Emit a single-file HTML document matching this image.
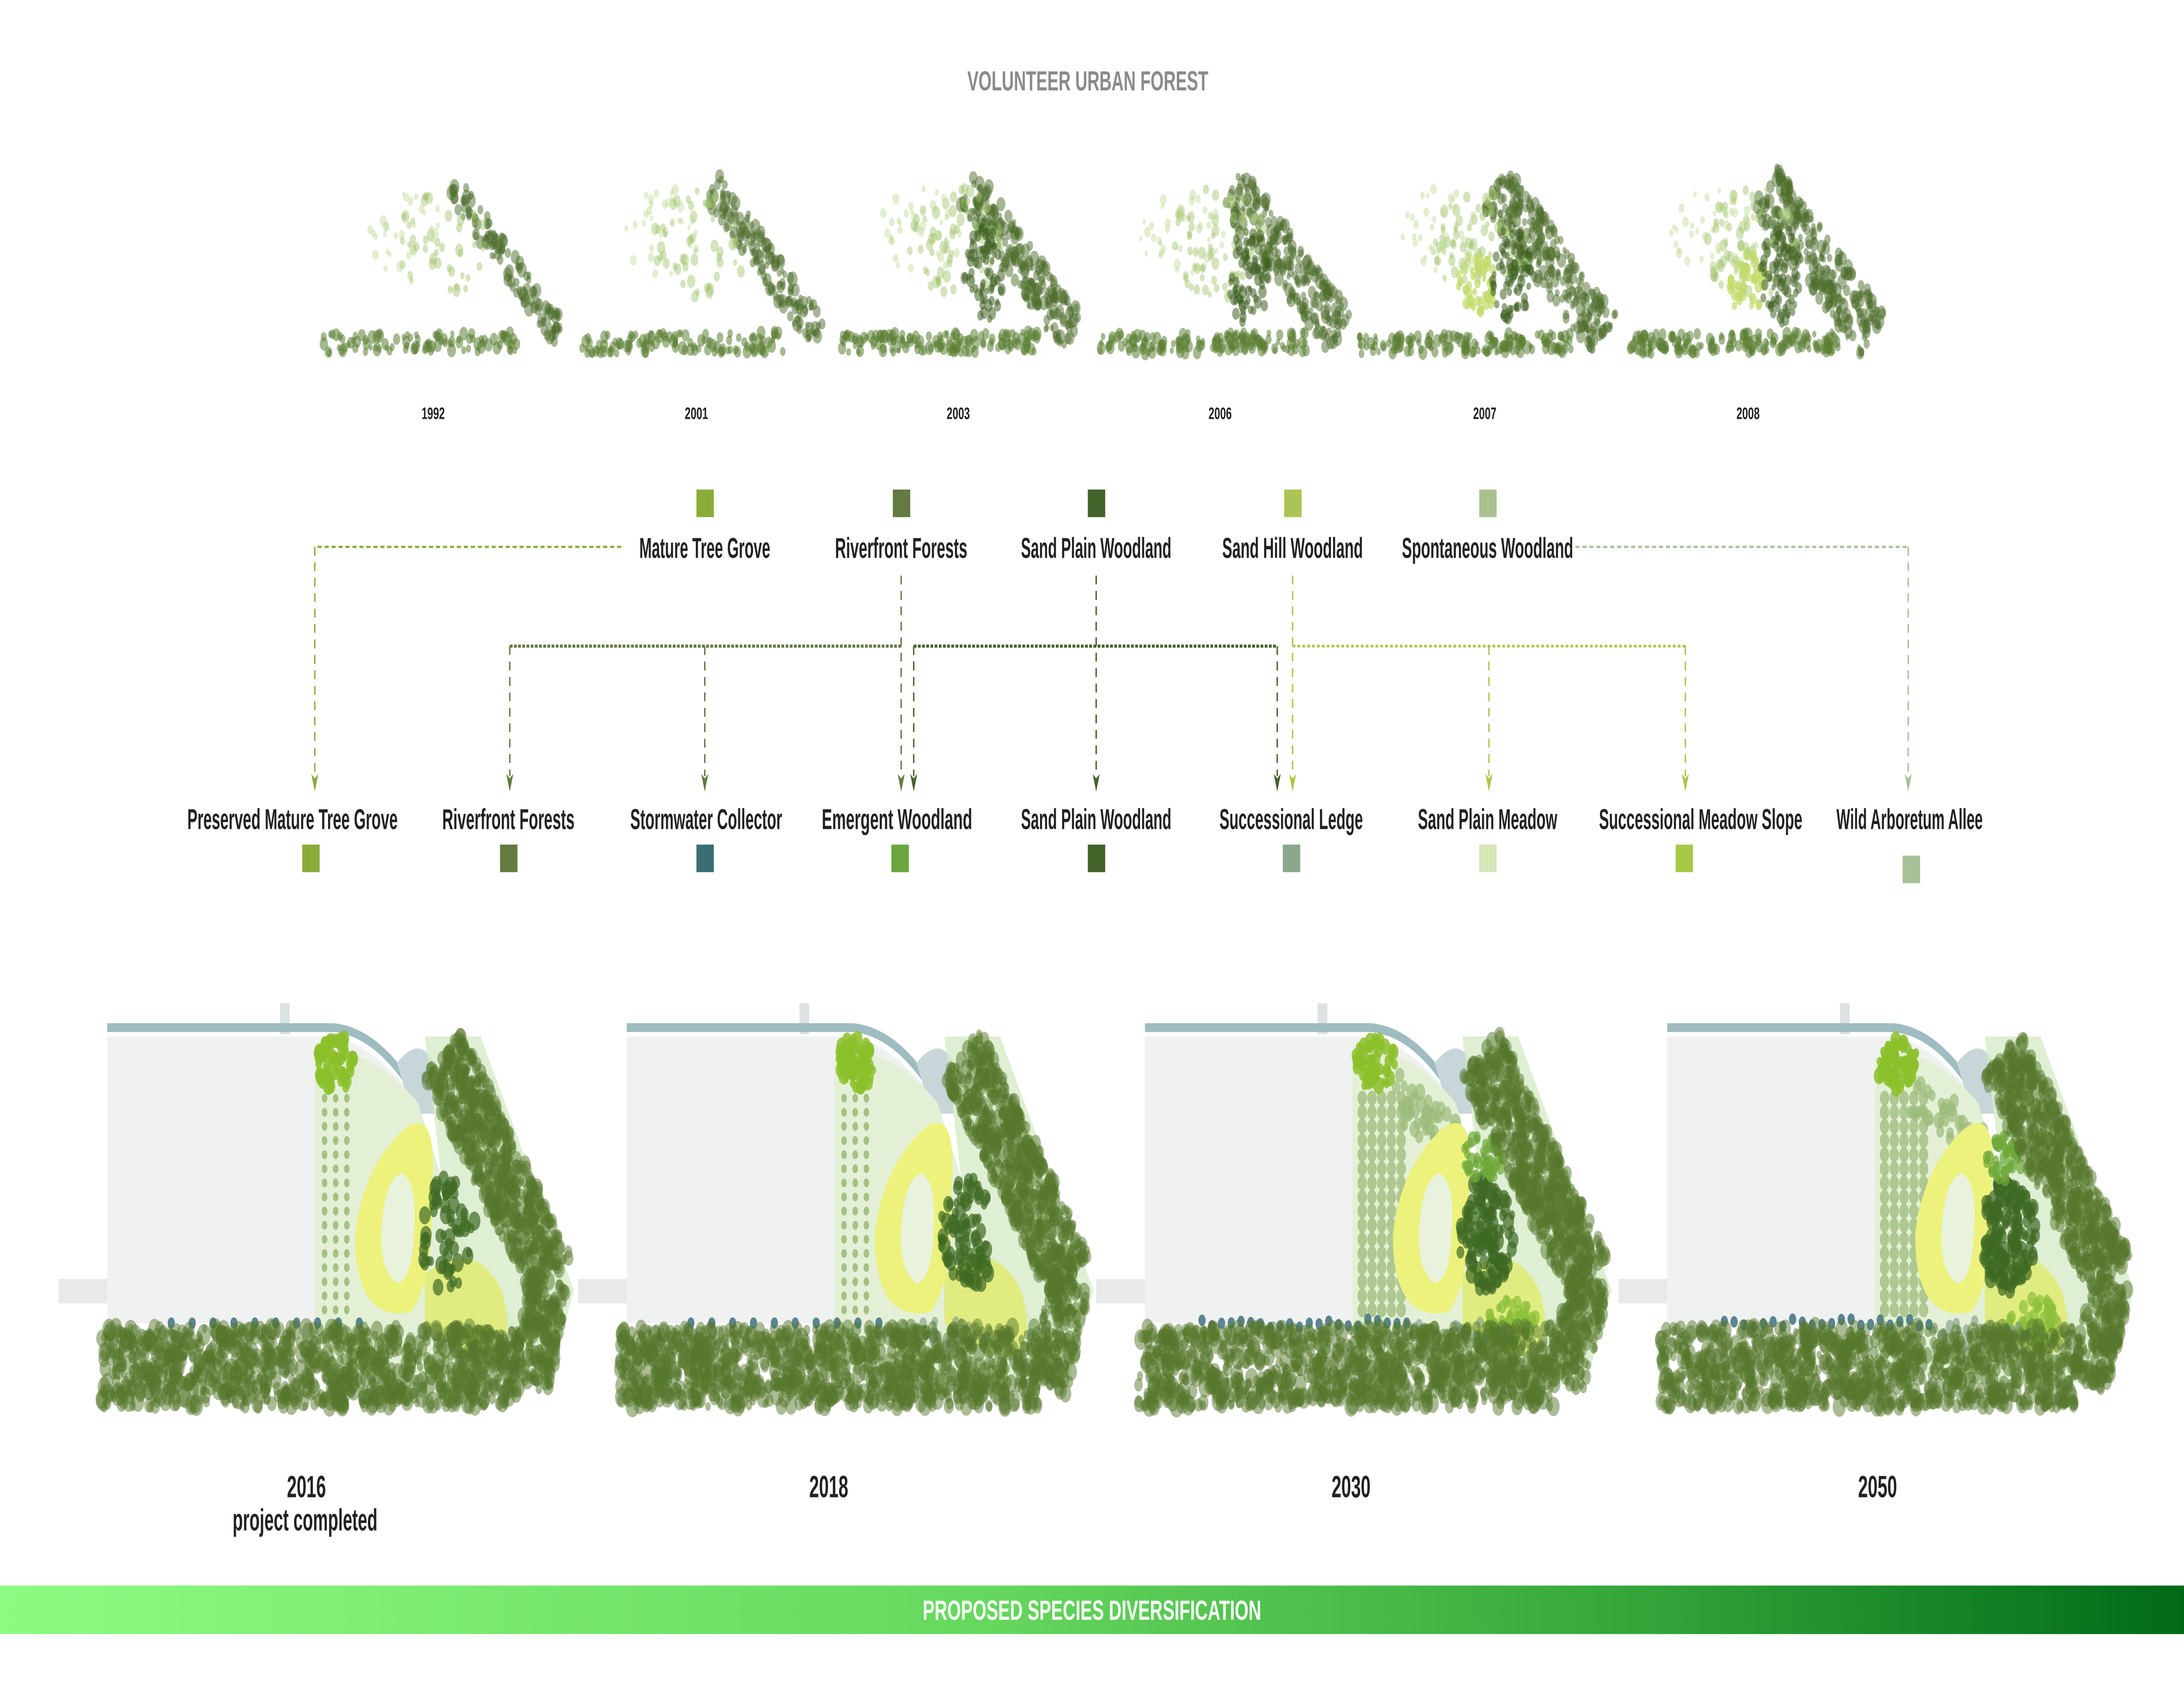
<!DOCTYPE html>
<html><head><meta charset="utf-8">
<style>
html,body{margin:0;padding:0;background:#fff;width:100%;height:100%;overflow:hidden;}
svg{display:block;position:absolute;left:0;top:0;width:100vw;height:100vh;}
text{font-family:"Liberation Sans Narrow","Liberation Sans",sans-serif;font-weight:bold;}
</style></head>
<body>
<svg id="s" xmlns="http://www.w3.org/2000/svg" viewBox="0 0 1568 765" preserveAspectRatio="none">
<defs>
<linearGradient id="bar" x1="0" x2="1" y1="0" y2="0">
<stop offset="0" stop-color="#8cfb82"/><stop offset="0.45" stop-color="#66d85e"/><stop offset="0.75" stop-color="#34a63a"/><stop offset="1" stop-color="#006a18"/>
</linearGradient>
</defs>
<g>
<text x="781" y="41" text-anchor="middle" font-size="12.5" fill="#8a8a8a" textLength="173" lengthAdjust="spacingAndGlyphs">VOLUNTEER URBAN FOREST</text>

<g id="topmaps"></g>
<g font-size="7.5" fill="#222" text-anchor="middle">
<text x="311" y="190">1992</text><text x="500" y="190">2001</text><text x="688" y="190">2003</text>
<text x="876" y="190">2006</text><text x="1066" y="190">2007</text><text x="1255" y="190">2008</text>
</g>

<rect x="500" y="222" width="12.5" height="12.5" fill="#8aad3a"/>
<rect x="641" y="222" width="12.5" height="12.5" fill="#637a40"/>
<rect x="781" y="222" width="12.5" height="12.5" fill="#44632b"/>
<rect x="922" y="222" width="12.5" height="12.5" fill="#aac553"/>
<rect x="1062" y="222" width="12.5" height="12.5" fill="#a9c191"/>
<g font-size="13" fill="#222" text-anchor="middle">
<text x="506" y="253" textLength="94" lengthAdjust="spacingAndGlyphs">Mature Tree Grove</text>
<text x="647" y="253" textLength="95" lengthAdjust="spacingAndGlyphs">Riverfront Forests</text>
<text x="787" y="253" textLength="108" lengthAdjust="spacingAndGlyphs">Sand Plain Woodland</text>
<text x="928" y="253" textLength="101" lengthAdjust="spacingAndGlyphs">Sand Hill Woodland</text>
<text x="1068" y="253" textLength="123" lengthAdjust="spacingAndGlyphs">Spontaneous Woodland</text>
</g>

<g fill="none" stroke-width="1">
<path d="M446,248 H226" stroke="#8aad3a" stroke-dasharray="3 2"/>
<path d="M226,248 V352" stroke="#8aad3a" stroke-dasharray="4 3"/>
<path d="M1131,248 H1370" stroke="#a8c098" stroke-dasharray="3 2"/>
<path d="M1370,248 V352" stroke="#a8c098" stroke-dasharray="4 3"/>

<path d="M366,293 H647" stroke="#637a40" stroke-width="1.4" stroke-dasharray="2 1"/>
<path d="M647,261 V352" stroke="#637a40" stroke-dasharray="4 3"/>
<path d="M366,293 V352" stroke="#637a40" stroke-dasharray="4 3"/>
<path d="M506,293 V352" stroke="#637a40" stroke-dasharray="4 3"/>

<path d="M656,293 H917" stroke="#44632b" stroke-width="1.4" stroke-dasharray="2 1"/>
<path d="M787,261 V352" stroke="#44632b" stroke-dasharray="4 3"/>
<path d="M656,293 V352" stroke="#44632b" stroke-dasharray="4 3"/>
<path d="M917,293 V352" stroke="#44632b" stroke-dasharray="4 3"/>

<path d="M928,293 H1210" stroke="#a8c848" stroke-width="1.2" stroke-dasharray="2 1.5"/>
<path d="M928,261 V352" stroke="#a8c848" stroke-dasharray="4 3"/>
<path d="M1069,293 V352" stroke="#a8c848" stroke-dasharray="4 3"/>
<path d="M1210,293 V352" stroke="#a8c848" stroke-dasharray="4 3"/>
</g>
<g>
<path d="M223.5,351 L226,359 L228.5,351 L226,353 Z" fill="#8aad3a"/>
<path d="M1367.5,351 L1370,359 L1372.5,351 L1370,353 Z" fill="#a8c098"/>
<path d="M644.5,351 L647,359 L649.5,351 L647,353 Z" fill="#637a40"/>
<path d="M363.5,351 L366,359 L368.5,351 L366,353 Z" fill="#637a40"/>
<path d="M503.5,351 L506,359 L508.5,351 L506,353 Z" fill="#637a40"/>
<path d="M784.5,351 L787,359 L789.5,351 L787,353 Z" fill="#44632b"/>
<path d="M653.5,351 L656,359 L658.5,351 L656,353 Z" fill="#44632b"/>
<path d="M914.5,351 L917,359 L919.5,351 L917,353 Z" fill="#44632b"/>
<path d="M925.5,351 L928,359 L930.5,351 L928,353 Z" fill="#a8c848"/>
<path d="M1066.5,351 L1069,359 L1071.5,351 L1069,353 Z" fill="#a8c848"/>
<path d="M1207.5,351 L1210,359 L1212.5,351 L1210,353 Z" fill="#a8c848"/>
</g>

<g font-size="13" fill="#222" text-anchor="middle">
<text x="210" y="376" textLength="151" lengthAdjust="spacingAndGlyphs">Preserved Mature Tree Grove</text>
<text x="365" y="376" textLength="95" lengthAdjust="spacingAndGlyphs">Riverfront Forests</text>
<text x="507" y="376" textLength="109" lengthAdjust="spacingAndGlyphs">Stormwater Collector</text>
<text x="644" y="376" textLength="108" lengthAdjust="spacingAndGlyphs">Emergent Woodland</text>
<text x="787" y="376" textLength="108" lengthAdjust="spacingAndGlyphs">Sand Plain Woodland</text>
<text x="927" y="376" textLength="103" lengthAdjust="spacingAndGlyphs">Successional Ledge</text>
<text x="1068" y="376" textLength="100" lengthAdjust="spacingAndGlyphs">Sand Plain Meadow</text>
<text x="1221" y="376" textLength="146" lengthAdjust="spacingAndGlyphs">Successional Meadow Slope</text>
<text x="1371" y="376" textLength="105" lengthAdjust="spacingAndGlyphs">Wild Arboretum Allee</text>
</g>
<rect x="217" y="383" width="12.5" height="12.5" fill="#8aad3a"/>
<rect x="359" y="383" width="12.5" height="12.5" fill="#637a40"/>
<rect x="500" y="383" width="12.5" height="12.5" fill="#3a6e72"/>
<rect x="640" y="383" width="12.5" height="12.5" fill="#6aa63e"/>
<rect x="781" y="383" width="12.5" height="12.5" fill="#44632b"/>
<rect x="921" y="383" width="12.5" height="12.5" fill="#8aa88a"/>
<rect x="1062" y="383" width="12.5" height="12.5" fill="#d6e6b6"/>
<rect x="1203" y="383" width="12.5" height="12.5" fill="#a8c848"/>
<rect x="1366" y="388" width="12.5" height="12.5" fill="#a8c098"/>

<g id="plans"></g>

<g font-size="14" fill="#222" text-anchor="middle">
<text x="220" y="679" textLength="28" lengthAdjust="spacingAndGlyphs">2016</text>
<text x="219" y="694" textLength="104" lengthAdjust="spacingAndGlyphs">project completed</text>
<text x="595" y="679" textLength="28" lengthAdjust="spacingAndGlyphs">2018</text>
<text x="970" y="679" textLength="28" lengthAdjust="spacingAndGlyphs">2030</text>
<text x="1348" y="679" textLength="28" lengthAdjust="spacingAndGlyphs">2050</text>
</g>

<rect x="0" y="719" width="1568" height="22" fill="url(#bar)"/>
<text x="784" y="734.5" text-anchor="middle" font-size="12.5" fill="#fff" textLength="243" lengthAdjust="spacingAndGlyphs">PROPOSED SPECIES DIVERSIFICATION</text>
</g>
</svg>
<script>
var NS="http://www.w3.org/2000/svg";
var seed=12345;function rnd(){seed=(seed*16807)%2147483647;return (seed-1)/2147483646;}
function el(p,t,a){var e=document.createElementNS(NS,t);for(var k in a)e.setAttribute(k,a[k]);p.appendChild(e);return e;}
function band(g,x1,y1,x2,y2,w,n,rmin,rmax,col,op){
 for(var i=0;i<n;i++){var t=rnd(),o=(rnd()-0.5)*w;var dx=x2-x1,dy=y2-y1,L=Math.sqrt(dx*dx+dy*dy)||1;
  var x=x1+dx*t-dy/L*o,y=y1+dy*t+dx/L*o;el(g,"circle",{cx:x.toFixed(1),cy:y.toFixed(1),r:(rmin+rnd()*(rmax-rmin)).toFixed(1),fill:col,"fill-opacity":op});}
}
function blob(g,cx,cy,rx,ry,n,rmin,rmax,col,op){
 for(var i=0;i<n;i++){var a=rnd()*6.283,d=Math.sqrt(rnd());el(g,"circle",{cx:(cx+Math.cos(a)*rx*d).toFixed(1),cy:(cy+Math.sin(a)*ry*d).toFixed(1),r:(rmin+rnd()*(rmax-rmin)).toFixed(1),fill:col,"fill-opacity":op});}
}
var tm=document.getElementById("topmaps");
var tops=[[232,402,0.35],[418,588,0.5],[602,770,0.8],[787,963,0.9],[975,1153,1],[1170,1345,1]];
tops.forEach(function(t,i){
 var g=el(tm,"g",{});var x0=t[0],x1=t[1],d=t[2],W=x1-x0;
 band(g,x0,156,x1-25,155,9,Math.round(160*(0.4+d*0.6)),1.5,3.2,"#5b7f33",0.55);
 band(g,x0+W*0.55,85,x1,152,20*d+6,Math.round(220*d+40),1.5,3.5,"#4e6e2c",0.5);
 blob(g,x0+W*0.5,110,W*0.2,25,Math.round(30+40*d),1.5,3,"#9fc46a",0.45);
 if(i>=4)blob(g,x0+W*0.48,128,14,14,50,1.5,3,"#c2dc6a",0.7);
 if(i>=2)blob(g,x0+W*0.62,125,15,22,Math.round(80*d),1.5,3,"#3f6123",0.55);
 blob(g,x0+W*0.35,105,W*0.18,20,Math.round(20+20*d),1.2,2.5,"#b8d88a",0.4);
});
var pl=document.getElementById("plans");
var offs=[0,373,745,1120];
offs.forEach(function(o,k){
 var g=el(pl,"g",{transform:"translate("+o+",0)"});
 el(g,"rect",{x:42,y:580,width:36,height:11,fill:"#e8eaea"});
 el(g,"rect",{x:201,y:455,width:7,height:14,fill:"#dde2e2"});
 el(g,"path",{d:"M77,470 H238 Q262,472 290,492 L300,505 Q262,520 240,600 H77 Z",fill:"#f0f1f1"});
 el(g,"path",{d:"M77,466 H240 Q268,468 292,490",stroke:"#9fbcc0","stroke-width":4,fill:"none"});
 el(g,"path",{d:"M285,482 Q300,470 310,480 L312,505 L296,505 Z",fill:"#c8d6da"});
 el(g,"path",{d:"M226,480 Q260,470 300,500 L330,560 L370,600 L330,630 L226,620 Z",fill:"#e3f0d6"});
 el(g,"path",{d:"M305,470 L345,470 L412,585 L395,625 L335,630 Z",fill:"#d6ebc8","fill-opacity":0.8});
 var rowc="#9dbb7a";
 for(var c=0;c<(k>=2?5:3);c++)for(var r=0;r<16;r++)el(g,"circle",{cx:233+c*(k>=2?7:8),cy:498+r*6.4,r:k>=2?3.4:2,fill:rowc,"fill-opacity":k>=2?0.75:0.9});
 if(k>=2)band(g,255,495,300,520,20,40,2.5,4,"#9dbb7a",0.7);
 blob(g,242,482,15,12,60,2,4,"#8cbf2a",0.85);
 el(g,"path",{d:"M305,578 Q340,560 360,585 Q372,610 350,615 Q320,610 305,600 Z",fill:"#e0ec80"});
 el(g,"path",{d:"M290,512 Q315,500 310,540 Q312,580 295,595 Q255,600 255,560 Q260,530 290,512 Z",fill:"#ecf27c"});
 el(g,"path",{d:"M288,532 Q300,535 297,560 Q296,580 285,582 Q270,575 275,550 Q278,535 288,532 Z",fill:"#e9f2dc"});
 var inn=[60,90,130,170][k];
 blob(g,322,560,20,26,inn,2,4.5,"#3f6a24",0.7);
 if(k>=2){blob(g,320,525,15,10,50,2,3.5,"#6fa83a",0.7);blob(g,340,600,18,12,60,2,3.5,"#8cbf3a",0.7);}
 if(k>=1)blob(g,300,605,40,6,30,2,3,"#7a9a80",0.6);
 for(var i=0;i<(k>=2?22:10);i++)el(g,"circle",{cx:(k>=2?118+i*7:123+i*15),cy:600+(k>=2?(rnd()*4-2):0),r:2.6,fill:"#3f7280","fill-opacity":0.85});
 band(g,318,478,396,580,34,600,2,4.5,"#55782c",0.5);
 band(g,396,580,380,628,28,180,2,4.5,"#55782c",0.5);
 band(g,72,620,372,620,36,1000,2,5,"#56782c",0.5);
});
</script>
</body></html>
